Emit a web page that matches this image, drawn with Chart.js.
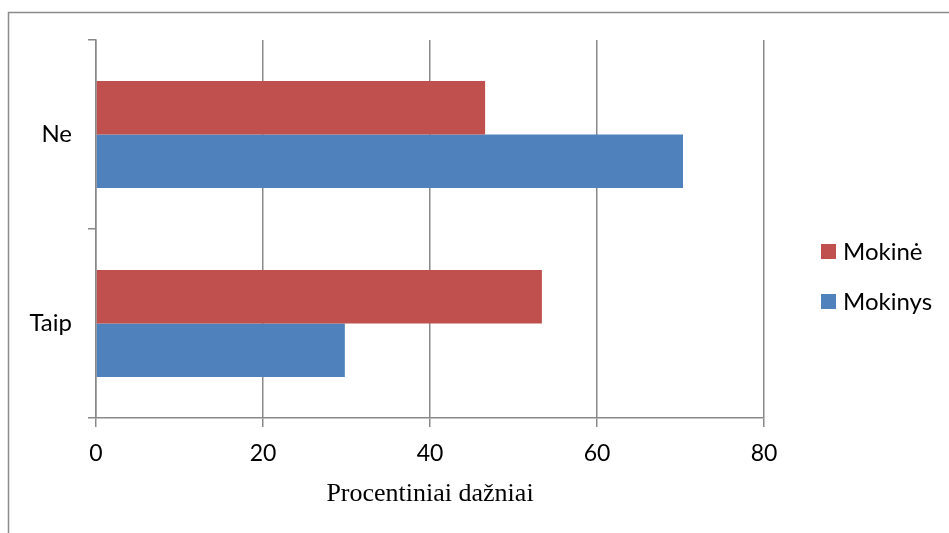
<!doctype html>
<html lang="lt">
<head>
<meta charset="utf-8">
<title>Procentiniai dažniai</title>
<script src="https://cdn.jsdelivr.net/npm/chart.js"></script>
<style>
html, body { margin: 0; padding: 0; background: #fff; }
#wrap { width: 949px; height: 533px; }
</style>
</head>
<body>
<div id="wrap"><canvas id="chart" width="949" height="533"></canvas></div>
<script>
// Duomenys
const kategorijos = ['Ne', 'Taip'];
const mokine = [46.6, 53.4];
const mokinys = [70.3, 29.8];
const xTicks = [0, 20, 40, 60, 80];

const pilka = '#898989';

// Rėmelis aplink diagramą
const remelis = {
  id: 'remelis',
  beforeDraw(chart) {
    const c = chart.ctx;
    c.save();
    c.strokeStyle = '#8c8c8c';
    c.lineWidth = 1.5;
    c.beginPath();
    c.moveTo(8.5, 533);
    c.lineTo(8.5, 12.5);
    c.lineTo(949, 12.5);
    c.stroke();
    c.restore();
  }
};

// Legenda dešinėje
const legenda = {
  id: 'legenda',
  afterDraw(chart) {
    const c = chart.ctx;
    c.save();
    c.font = '24px Lato';
    c.textBaseline = 'middle';
    chart.data.datasets.forEach((ds, i) => {
      const y = 244 + i * 50;
      c.fillStyle = ds.backgroundColor;
      c.fillRect(821, y, 15, 15);
      c.fillStyle = '#000';
      c.fillText(ds.label, 843, y + 8);
    });
    c.restore();
  }
};

let config = {
  type: 'bar',
  data: {
    labels: kategorijos,
    datasets: [{
      label: 'Mokinė',
      data: mokine,
      backgroundColor: '#C0504D',
      barPercentage: 1,
      categoryPercentage: 0.566
    }, {
      label: 'Mokinys',
      data: mokinys,
      backgroundColor: '#4F81BD',
      barPercentage: 1,
      categoryPercentage: 0.566
    }]
  },
  options: {
    indexAxis: 'y',
    responsive: false,
    animation: false,
    devicePixelRatio: 1,
    layout: { padding: { top: 40, left: 20, right: 185, bottom: 23 } },
    scales: {
      x: {
        min: 0,
        max: 80,
        afterBuildTicks: (s) => { s.ticks = xTicks.map(v => ({ value: v })); },
        afterFit: (s) => { s.height = 92; },
        grid: {
          color: pilka,
          lineWidth: 1.5,
          tickLength: 9,
          drawTicks: true
        },
        border: { color: pilka, width: 1.5 },
        ticks: {
          color: '#000',
          font: { family: 'Lato', size: 23 },
          padding: 13
        },
        title: {
          display: true,
          text: 'Procentiniai dažniai',
          color: '#000',
          font: { family: 'Liberation Serif', size: 26 },
          padding: { top: 0, bottom: 0 }
        }
      },
      y: {
        afterFit: (s) => { s.width = 76; },
        grid: {
          offset: true,
          drawOnChartArea: false,
          drawTicks: true,
          tickLength: 8,
          color: pilka,
          lineWidth: 1.5
        },
        border: { color: pilka, width: 1.5 },
        ticks: {
          color: '#000',
          font: { family: 'Lato', size: 24 },
          padding: 16
        }
      }
    },
    plugins: {
      legend: { display: false },
      tooltip: { enabled: false }
    }
  },
  plugins: [remelis, legenda]
};

new Chart(document.getElementById('chart').getContext('2d'), config);
</script>
</body>
</html>
